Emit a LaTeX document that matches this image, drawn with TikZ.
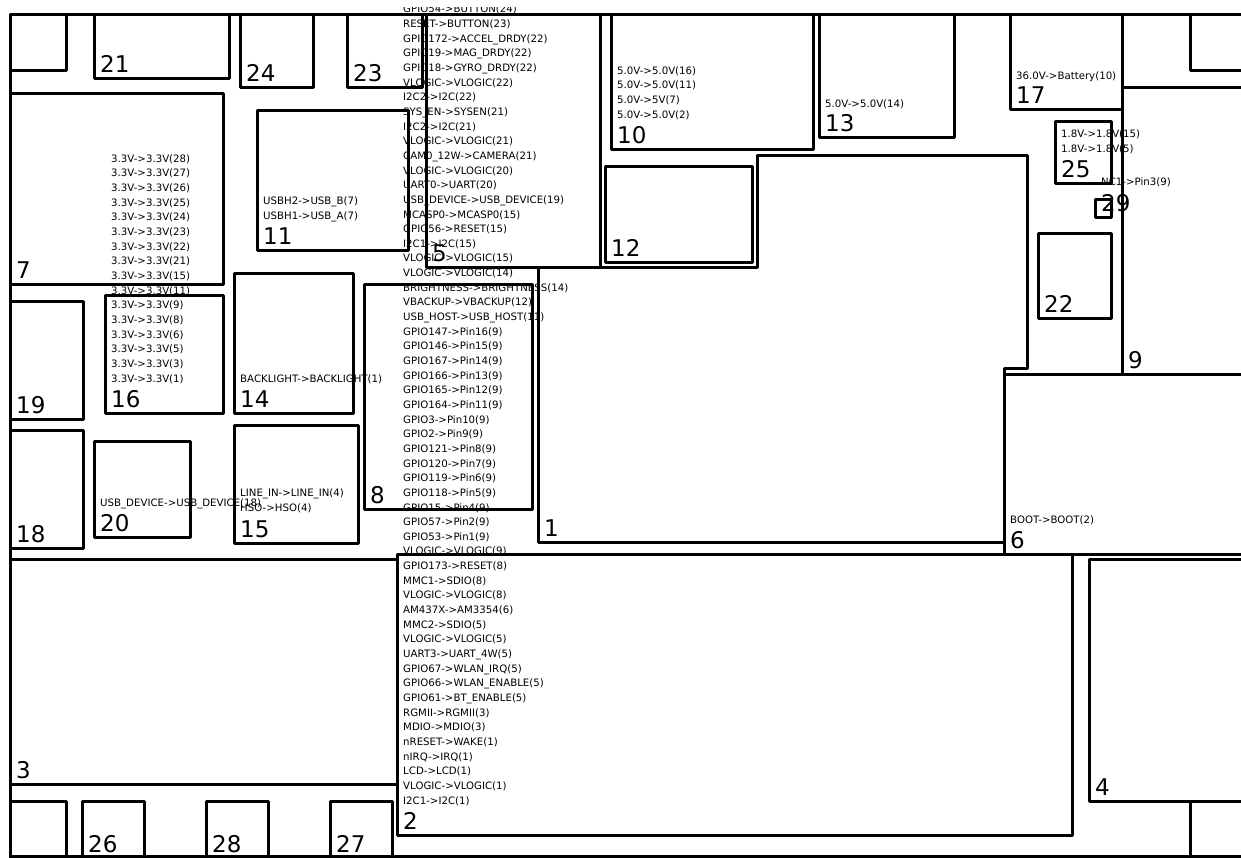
\documentclass[tikz,border=0pt]{standalone}
\usepackage{fontspec}
\setmainfont{DejaVu Sans}

\tikzset{
  pinlist/.style={anchor=base west, inner sep=0pt, align=left, font=\fontsize{10.2}{14.65}\selectfont},
  boxnum/.style={anchor=base west, inner sep=0pt, font=\fontsize{23}{26}\selectfont},
  outline/.style={draw=black, line width=3pt, line join=round}
}

\begin{document}
\begin{tikzpicture}[x=1pt, y=-1pt]
  \useasboundingbox (0,0) rectangle (1241,857);
  \clip (0,7) rectangle (1241,857);

  % Pin lists, under the outlines
  \node[pinlist] (pins2) at (403,804) {GPIO54->BUTTON(24)\\RESET->BUTTON(23)\\GPIO172->ACCEL\_DRDY(22)\\GPIO19->MAG\_DRDY(22)\\GPIO18->GYRO\_DRDY(22)\\VLOGIC->VLOGIC(22)\\I2C2->I2C(22)\\SYS\_EN->SYSEN(21)\\I2C2->I2C(21)\\VLOGIC->VLOGIC(21)\\CAM0\_12W->CAMERA(21)\\VLOGIC->VLOGIC(20)\\UART0->UART(20)\\USB\_DEVICE->USB\_DEVICE(19)\\MCASP0->MCASP0(15)\\GPIO56->RESET(15)\\I2C1->I2C(15)\\VLOGIC->VLOGIC(15)\\VLOGIC->VLOGIC(14)\\BRIGHTNESS->BRIGHTNESS(14)\\VBACKUP->VBACKUP(12)\\USB\_HOST->USB\_HOST(11)\\GPIO147->Pin16(9)\\GPIO146->Pin15(9)\\GPIO167->Pin14(9)\\GPIO166->Pin13(9)\\GPIO165->Pin12(9)\\GPIO164->Pin11(9)\\GPIO3->Pin10(9)\\GPIO2->Pin9(9)\\GPIO121->Pin8(9)\\GPIO120->Pin7(9)\\GPIO119->Pin6(9)\\GPIO118->Pin5(9)\\GPIO15->Pin4(9)\\GPIO57->Pin2(9)\\GPIO53->Pin1(9)\\VLOGIC->VLOGIC(9)\\GPIO173->RESET(8)\\MMC1->SDIO(8)\\VLOGIC->VLOGIC(8)\\AM437X->AM3354(6)\\MMC2->SDIO(5)\\VLOGIC->VLOGIC(5)\\UART3->UART\_4W(5)\\GPIO67->WLAN\_IRQ(5)\\GPIO66->WLAN\_ENABLE(5)\\GPIO61->BT\_ENABLE(5)\\RGMII->RGMII(3)\\MDIO->MDIO(3)\\nRESET->WAKE(1)\\nIRQ->IRQ(1)\\LCD->LCD(1)\\VLOGIC->VLOGIC(1)\\I2C1->I2C(1)};
  \node[pinlist] (pins16) at (111,382) {3.3V->3.3V(28)\\3.3V->3.3V(27)\\3.3V->3.3V(26)\\3.3V->3.3V(25)\\3.3V->3.3V(24)\\3.3V->3.3V(23)\\3.3V->3.3V(22)\\3.3V->3.3V(21)\\3.3V->3.3V(15)\\3.3V->3.3V(11)\\3.3V->3.3V(9)\\3.3V->3.3V(8)\\3.3V->3.3V(6)\\3.3V->3.3V(5)\\3.3V->3.3V(3)\\3.3V->3.3V(1)};
  \node[pinlist] (pins10) at (617,118) {5.0V->5.0V(16)\\5.0V->5.0V(11)\\5.0V->5V(7)\\5.0V->5.0V(2)};
  \node[pinlist] (pins13) at (825,107) {5.0V->5.0V(14)};
  \node[pinlist] (pins17) at (1016,79) {36.0V->Battery(10)};
  \node[pinlist] (pins25) at (1061,152) {1.8V->1.8V(15)\\1.8V->1.8V(5)};
  \node[pinlist] (pins29) at (1101,185) {NC1->Pin3(9)};
  \node[pinlist] (pins11) at (263,219) {USBH2->USB\_B(7)\\USBH1->USB\_A(7)};
  \node[pinlist] (pins14) at (240,382) {BACKLIGHT->BACKLIGHT(1)};
  \node[pinlist] (pins15) at (240,511) {LINE\_IN->LINE\_IN(4)\\HSO->HSO(4)};
  \node[pinlist] (pins20) at (100,506) {USB\_DEVICE->USB\_DEVICE(18)};
  \node[pinlist] (pins6) at (1010,523) {BOOT->BOOT(2)};

  % Board outline and parts without a number
  \draw[outline] (10,14) rectangle (1300,856);
  \foreach \xa/\ya/\xb/\yb in {10/14/66/70, 1190/14/1300/70, 10/801/66/900, 1190/801/1300/900} {
    \draw[outline] (\xa,\ya) rectangle (\xb,\yb);
  }

  % Numbered parts: number/left/top/right/bottom
  \foreach \n/\xa/\ya/\xb/\yb in {2/397/554/1072/835, 3/10/559/397/784, 4/1089/559/1300/801,
      5/426/14/600/267, 6/1004/374/1300/554, 7/10/93/223/284, 8/364/284/532/509,
      9/1122/87/1300/374, 10/611/14/813/149, 11/257/110/408/250, 12/605/166/752/262,
      13/819/14/954/137, 14/234/273/353/413, 15/234/425/358/543, 16/105/295/223/413,
      17/1010/14/1122/109, 18/10/430/83/548, 19/10/301/83/419, 20/94/441/190/537,
      21/94/14/229/78, 22/1038/233/1111/318, 23/347/14/422/87, 24/240/14/313/87,
      25/1055/121/1111/183, 26/82/801/144/900, 27/330/801/392/900, 28/206/801/268/900,
      29/1095/199/1111/217} {
    \draw[outline] (\xa,\ya) rectangle (\xb,\yb);
  }
  \foreach \n/\xa/\yb in {2/397/835, 3/10/784, 4/1089/801, 5/426/267, 6/1004/554, 7/10/284,
      8/364/509, 9/1122/374, 10/611/149, 11/257/250, 12/605/262, 13/819/137, 14/234/413,
      15/234/543, 16/105/413, 17/1010/109, 18/10/548, 19/10/419, 20/94/537, 21/94/78,
      22/1038/318, 23/347/87, 24/240/87, 25/1055/183, 26/82/857.4, 27/330/857.4, 28/206/857.4,
      29/1095/217} {
    \node[boxnum] (num\n) at (\xa+6,\yb-5.4) {\n};
  }

  % Part 1 is not a rectangle
  \draw[outline] (538,267) -- (538,542) -- (1004,542) -- (1004,368) -- (1027,368) -- (1027,155)
    -- (757,155) -- (757,267) -- cycle;
  \node[boxnum] (num1) at (544,536.6) {1};
\end{tikzpicture}
\end{document}
